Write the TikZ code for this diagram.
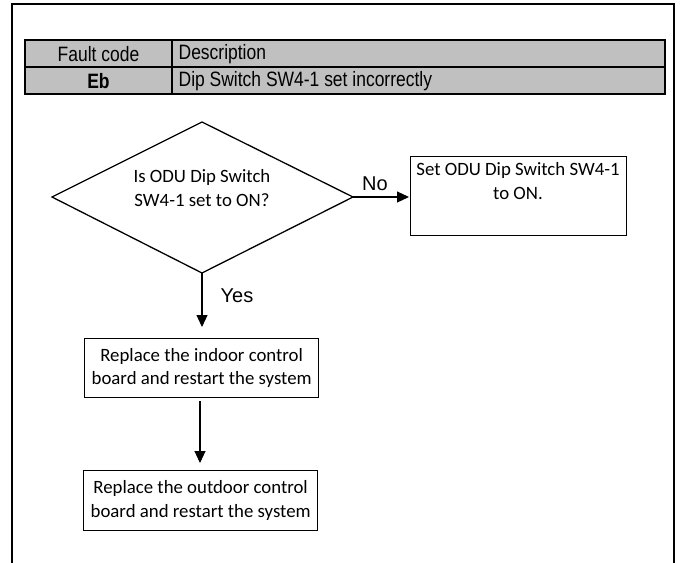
\documentclass[tikz,border=0pt]{standalone}
\usepackage{fontspec}
\setmainfont{Carlito}
\newfontfamily\tabfont[FakeStretch=0.84]{Liberation Sans}
\newfontfamily\arialfont{Liberation Sans}
\usetikzlibrary{arrows.meta}
\begin{document}
\begin{tikzpicture}[x=1pt,y=-1pt,
  line width=1.3pt,
  tabtxt/.style={font=\tabfont\fontsize{20.8}{23}\selectfont, inner sep=0pt},
  flowtxt/.style={font=\fontsize{18.8}{23.5}\selectfont, align=center, inner sep=0pt},
  procbox/.style={draw, line width=1.3pt},
  conn/.style={line width=1.1pt, -{Triangle[length=12pt,width=11pt]}},
  lbl/.style={font=\arialfont\fontsize{20}{22}\selectfont, inner sep=0pt}]
\useasboundingbox (0,0) rectangle (681,563);
% outer frame
\coordinate (fbl) at (12,563);
\coordinate (ftl) at (12,4);
\coordinate (ftr) at (674,4);
\coordinate (fbr) at (674,563);
\draw[line width=1.5pt] (fbl) -- (ftl) -- (ftr) -- (fbr);
% table
\fill[fill={rgb,255:red,192;green,192;blue,192}] (25,40) rectangle (665,94);
\draw[line width=1.3pt] (25,40) rectangle (665,94);
\draw[line width=1.3pt] (25,67) -- (665,67);
\draw[line width=1.3pt] (172,40) -- (172,94);
\node[tabtxt] (h1) at (98.5,54) {Fault code};
\node[tabtxt, anchor=west] (h2) at (178,54) {Description};
\node[tabtxt] (c1) at (98.5,81) {\bfseries Eb};
\node[tabtxt, anchor=west] (c2) at (178,81) {Dip Switch SW4-1 set incorrectly};
% diamond
\coordinate (dt) at (202,122);
\coordinate (dl) at (52,197);
\coordinate (dr) at (353,197);
\coordinate (db) at (202,273);
\draw[line width=1.3pt] (dt) -- (dr) -- (db) -- (dl) -- cycle;
\node[flowtxt] (dtext) at (202,188) {Is ODU Dip Switch\\SW4-1 set to ON?};
% boxes
\node[procbox, minimum width=216pt, minimum height=79pt, anchor=north west] (bon) at (410,156) {};
\node[flowtxt, anchor=north] (bontxt) at (518,162) {Set ODU Dip Switch SW4-1\\to ON.};
\node[procbox, minimum width=234pt, minimum height=59pt, anchor=north west, flowtxt] (bin) at (84,338) {Replace the indoor control\\board and restart the system};
\node[procbox, minimum width=234pt, minimum height=60pt, anchor=north west, flowtxt] (bout) at (83,470) {Replace the outdoor control\\board and restart the system};
% connectors
\coordinate (noend) at (409,197);
\draw[conn] (dr) -- (noend);
\node[lbl] (no) at (375,184) {No};
\coordinate (yesend) at (202,327);
\draw[conn] (db) -- (yesend);
\node[lbl] (yes) at (237,296) {Yes};
\coordinate (a2s) at (200,401);
\coordinate (a2e) at (200,463);
\draw[conn] (a2s) -- (a2e);
\end{tikzpicture}
\end{document}
